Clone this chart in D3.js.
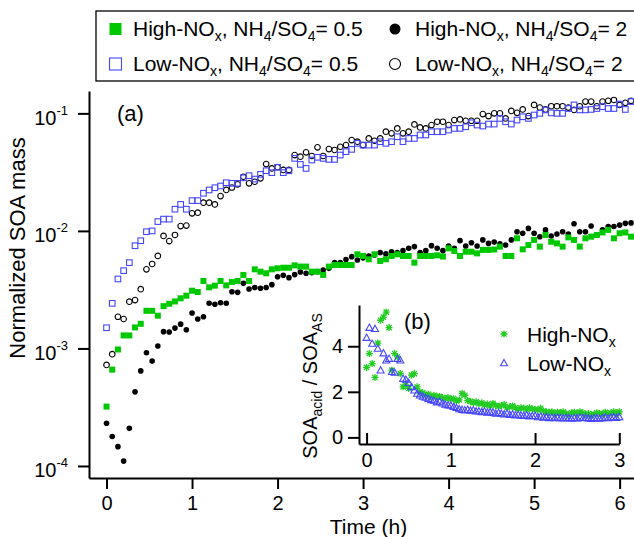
<!DOCTYPE html>
<html lang="en">
  <head>
    <meta charset="UTF-8" />
    <title>Normalized SOA mass vs time</title>
    <script src="https://d3js.org/d3.v7.min.js"></script>
    <style>
      body {
        margin: 0;
        background: #fff;
      }
      svg {
        display: block;
        font-family: 'Liberation Sans', Arial, sans-serif;
      }
    </style>
  </head>
  <body>
    <svg id="chart" width="634" height="537"></svg>
    <script>
      // ---- data ----
      // main panel: sample times in minutes
      const mainMinutes = [
        0, 4, 8, 12, 16, 20, 24, 28, 32, 36, 40, 44, 48, 52, 56, 60, 64, 68, 72, 76,
        80, 84, 88, 92, 96, 100, 104, 108, 112, 116, 120, 124, 128, 132, 136, 140,
        144, 148, 152, 156, 160, 164, 168, 172, 176, 180, 184, 188, 192, 196, 200,
        204, 208, 212, 216, 220, 224, 228, 232, 236, 240, 244, 248, 252, 256, 260,
        264, 268, 272, 276, 280, 284, 288, 292, 296, 300, 304, 308, 312, 316, 320,
        324, 328, 332, 336, 340, 344, 348, 352, 356, 360, 364, 368,
      ];
      // normalized SOA mass, in units of 1e-3
      const highNOx05 = [
        0.32, 0.66, 0.98, 1.29, 1.29, 1.51, 1.62, 2.09, 2.09, 1.9,
        2.29, 2.4, 2.51, 2.67, 2.81, 3.1, 3.02, 3.75, 3.31, 3.42,
        3.75, 3.44, 3.68, 3.75, 4.22, 3.75, 4.71, 4.5, 4.36, 4.71,
        4.81, 4.86, 4.86, 5.09, 4.97, 4.97, 4.5, 4.5, 4.22, 4.97,
        5.13, 5.13, 5.13, 5.13, 6.32, 6.12, 5.73, 6.32, 5.55, 5.73,
        6.12, 6.32, 6.12, 6.12, 5.37, 6.12, 6.12, 6.12, 6.2, 6.05,
        7.11, 6.75, 6.12, 6.65, 6.65, 6.44, 6.89, 6.89, 6.95, 7.35,
        6.12, 6.12, 8.65, 6.97, 7.59, 8.38, 7.35, 9.23, 8.09, 7.83,
        7.35, 8.81, 8.38, 7.35, 8.65, 8.93, 9.23, 9.7, 10.2, 8.65,
        9.55, 9.7, 8.93,
      ];
      const highNOx2 = [
        0.231, 0.178, 0.146, 0.11, 0.209, 0.427, 0.644, 0.92, 0.78, 1.05,
        1.39, 1.38, 1.49, 1.61, 1.44, 2.0, 1.78, 1.86, 2.42, 2.38,
        2.45, 2.42, 3.04, 3.0, 3.58, 3.2, 3.3, 3.25, 3.3, 3.49,
        4.07, 4.2, 4.0, 4.25, 4.47, 4.36, 4.4, 4.5, 4.65, 4.8,
        5.37, 5.37, 5.7, 6.04, 5.66, 5.9, 6.12, 6.24, 6.53, 6.37,
        6.65, 6.53, 6.79, 7.11, 7.35, 6.53, 6.79, 7.49, 7.11, 6.79,
        7.45, 7.1, 8.26, 7.45, 7.94, 7.45, 8.38, 7.83, 8.03, 7.75,
        7.59, 8.38, 9.84, 9.55, 10.5, 9.55, 8.93, 10.2, 9.06, 9.42,
        9.84, 9.42, 11.5, 9.84, 9.84, 11.0, 9.23, 10.2, 10.9, 10.9,
        11.2, 11.6, 11.7,
      ];
      const lowNOx05 = [
        1.5, 2.42, 3.9, 4.59, 5.37, 7.48, 8.25, 9.84, 10.0, 12.0,
        12.6, 12.6, 15.3, 16.8, 15.3, 18.1, 18.1, 20.9, 22.3, 23.3,
        24.1, 25.7, 25.4, 25.4, 28.3, 29.5, 27.6, 30.3, 32.5, 31.3,
        34.8, 31.3, 32.5, 41.4, 36.8, 34.0, 40.1, 42.3, 41.4, 40.6,
        40.6, 44.2, 47.2, 49.4, 55.6, 53.7, 53.7, 53.7, 57.4, 55.6,
        57.4, 63.3, 57.4, 61.2, 61.2, 65.5, 65.5, 69.8, 69.8, 69.8,
        72.1, 74.5, 74.5, 76.9, 83.2, 79.6, 78.0, 81.1, 81.1, 90.6,
        84.9, 81.1, 87.7, 93.6, 90.6, 96.8, 100, 107, 101, 100,
        100, 110, 118, 107, 107, 108, 110, 114, 110, 110,
        120, 108, 126,
      ];
      const lowNOx2 = [
        0.724, 0.893, 1.86, 1.78, 2.5, 2.58, 3.19, 4.71, 5.23, 6.12,
        9.06, 8.2, 9.23, 11.0, 11.1, 14.1, 14.3, 17.4, 17.4, 16.8,
        19.8, 22.3, 23.4, 24.9, 28.9, 25.4, 26.2, 28.0, 37.0, 34.0,
        34.8, 33.0, 33.0, 44.2, 42.8, 46.6, 43.4, 51.4, 43.4, 49.7,
        48.8, 52.0, 53.7, 59.3, 57.4, 53.7, 61.2, 58.5, 61.2, 69.8,
        67.6, 74.5, 67.6, 69.8, 80.5, 76.0, 74.5, 79.6, 84.9, 84.9,
        79.6, 87.7, 88.9, 86.5, 86.5, 86.5, 98.6, 94.8, 100, 100,
        90.6, 105, 101, 108, 94.8, 118, 112, 108, 115, 115,
        115, 112, 107, 115, 126, 126, 115, 126, 128, 130,
        118, 123, 128,
      ];

      // inset: SOA_acid / SOA_AS ratio, sample times in minutes
      const insetMinutes = [
        0, 2, 4, 6, 8, 10, 12, 14, 16, 18, 20, 22, 24, 26, 28, 30, 32, 34, 36, 38,
        40, 42, 44, 46, 48, 50, 52, 54, 56, 58, 60, 62, 64, 66, 68, 70, 72, 74, 76,
        78, 80, 82, 84, 86, 88, 90, 92, 94, 96, 98, 100, 102, 104, 106, 108, 110,
        112, 114, 116, 118, 120, 122, 124, 126, 128, 130, 132, 134, 136, 138, 140,
        142, 144, 146, 148, 150, 152, 154, 156, 158, 160, 162, 164, 166, 168, 170,
        172, 174, 176, 178, 180,
      ];
      const ratioHighNOx = [
        3.07, 3.68, 3.24, 2.63, 4.14, 5.14, 5.28, 5.5, 4.82, 2.95,
        3.68, 3.53, 2.8, 2.22, 2.3, 2.15, 2.73, 2.8, 2.22, 2.0,
        1.95, 1.85, 1.9, 1.8, 1.85, 1.78, 1.8, 1.75, 1.7, 1.75,
        1.68, 1.7, 1.6, 1.65, 1.93, 1.85, 1.62, 1.58, 1.52, 1.56,
        1.48, 1.52, 1.42, 1.46, 1.38, 1.49, 1.4, 1.36, 1.4, 1.44,
        1.3, 1.34, 1.38, 1.3, 1.25, 1.3, 1.28, 1.22, 1.3, 1.25,
        1.23, 1.2, 1.28, 1.15, 1.12, 1.1, 1.12, 1.05, 1.1, 1.08,
        1.12, 1.05, 1.0, 1.08, 1.1, 1.05, 1.12, 1.08, 1.0, 1.05,
        0.98, 1.02, 1.08, 1.05, 1.02, 1.1, 1.05, 1.08, 1.12, 1.05,
        1.12,
      ];
      const ratioLowNOx = [
        4.38, 4.82, 4.12, 4.77, 3.9, 2.95, 3.7, 3.39, 3.46, 2.88,
        2.85, 3.46, 3.39, 2.58, 2.54, 2.4, 2.22, 2.07, 1.93, 1.85,
        1.8, 1.75, 1.7, 1.65, 1.62, 1.55, 1.58, 1.5, 1.45, 1.42,
        1.4, 1.35, 1.3, 1.25, 1.22, 1.2, 1.22, 1.18, 1.2, 1.15,
        1.15, 1.12, 1.15, 1.1, 1.12, 1.1, 1.05, 1.08, 1.05, 1.02,
        1.05, 1.0, 1.02, 0.98, 1.0, 0.97, 0.95, 0.98, 0.93, 0.95,
        0.95, 0.9, 0.92, 0.88, 0.9, 0.86, 0.88, 0.85, 0.88, 0.86,
        0.84, 0.87, 0.85, 0.83, 0.86, 0.84, 0.88, 0.85, 0.87, 0.84,
        0.82, 0.86, 0.84, 0.83, 0.86, 0.88, 0.85, 0.88, 0.9, 0.87,
        0.9,
      ];

      const mainXTicks = [0, 1, 2, 3, 4, 5, 6];
      const mainYTicks = [1e-4, 1e-3, 1e-2, 1e-1];
      const insetXTicks = [0, 1, 2, 3];
      const insetYTicks = [0, 2, 4];

      const FONT = "'Liberation Sans', Arial, sans-serif";
      const GREEN = '#00c800';
      const BLUE = '#4646ff';
      const intFmt = d3.format('d');
      const svg = d3.select('#chart');

      // text with sub/superscripts: parts = [[str, 'sub'|'sup'|undefined]]
      function richText(sel, parts, base, small) {
        let shift = 0;
        parts.forEach(([str, kind]) => {
          const target = kind === 'sub' ? 5 : kind === 'sup' ? -10 : 0;
          sel
            .append('tspan')
            .attr('dy', target - shift)
            .attr('font-size', kind ? small : base)
            .text(str);
          shift = target;
        });
        return sel;
      }

      function marker(g, type, size) {
        if (type === 'sqFill') {
          g.append('rect')
            .attr('x', -size / 2).attr('y', -size / 2)
            .attr('width', size).attr('height', size)
            .attr('fill', GREEN);
        } else if (type === 'dot') {
          g.append('circle').attr('r', size / 2).attr('fill', '#000');
        } else if (type === 'sqOpen') {
          g.append('rect')
            .attr('x', -size / 2).attr('y', -size / 2)
            .attr('width', size).attr('height', size)
            .attr('fill', 'none').attr('stroke', BLUE).attr('stroke-width', 1.1);
        } else if (type === 'ring') {
          g.append('circle').attr('r', size / 2)
            .attr('fill', 'none').attr('stroke', '#000').attr('stroke-width', 1.1);
        } else if (type === 'aster') {
          const h = size / 2, d = h * 0.75;
          g.append('path')
            .attr('d', `M${-h},0H${h}M0,${-h}V${h}M${-d},${-d}L${d},${d}M${-d},${d}L${d},${-d}`)
            .attr('fill', 'none').attr('stroke', '#22cc22').attr('stroke-width', 1.3);
        } else if (type === 'tri') {
          const h = size / 2;
          g.append('path')
            .attr('d', `M0,${-h}L${h},${h * 0.8}L${-h},${h * 0.8}Z`)
            .attr('fill', 'none').attr('stroke', BLUE).attr('stroke-width', 1.1);
        }
      }

      function styleAxis(g) {
        g.attr('font-family', FONT).attr('font-size', 20);
        g.selectAll('path, line').attr('stroke', '#000').attr('stroke-width', 2);
        g.selectAll('text').attr('fill', '#000');
      }

      // ---- main panel ----
      const x = d3.scaleLinear().domain([-0.205, 6.168]).range([89, 634]);
      const y = d3.scaleLog().domain([7.9e-5, 0.155]).range([478, 91]);

      svg.append('g')
        .attr('transform', 'translate(0,478)')
        .call(
          d3.axisBottom(x).tickValues(mainXTicks).tickFormat(intFmt)
            .tickSize(11).tickSizeOuter(0).tickPadding(7),
        )
        .call(styleAxis);

      svg.append('g')
        .attr('transform', 'translate(89,0)')
        .call(d3.axisLeft(y).tickValues(mainYTicks).tickSize(11).tickSizeOuter(0).tickFormat(''))
        .call(styleAxis);

      mainYTicks.forEach((v) => {
        const t = svg.append('text')
          .attr('x', 68)
          .attr('y', y(v) + 11.5)
          .attr('text-anchor', 'end');
        richText(t, [['10'], [String(Math.round(Math.log10(v))), 'sup']], 20, 13);
      });

      const series = [
        { vals: highNOx2, type: 'dot', size: 5.6 },
        { vals: highNOx05, type: 'sqFill', size: 6 },
        { vals: lowNOx2, type: 'ring', size: 5.6 },
        { vals: lowNOx05, type: 'sqOpen', size: 5.6 },
      ];
      series.forEach((s) => {
        svg.append('g')
          .selectAll('g')
          .data(s.vals)
          .join('g')
          .attr('transform', (d, i) => `translate(${x(mainMinutes[i] / 60)},${y(d * 1e-3)})`)
          .each(function () {
            marker(d3.select(this), s.type, s.size);
          });
      });

      svg.append('text')
        .attr('transform', 'translate(25,248) rotate(-90)')
        .attr('text-anchor', 'middle')
        .attr('font-size', 22)
        .text('Normalized SOA mass');

      svg.append('text')
        .attr('x', 368.5).attr('y', 533.5)
        .attr('text-anchor', 'middle')
        .attr('font-size', 21)
        .text('Time (h)');

      svg.append('text')
        .attr('x', 117).attr('y', 121)
        .attr('font-size', 22)
        .text('(a)');

      // ---- legend ----
      svg.append('rect')
        .attr('x', 96).attr('y', 11)
        .attr('width', 600).attr('height', 70)
        .attr('fill', 'none').attr('stroke', '#000').attr('stroke-width', 1.3);

      const legendItems = [
        { type: 'sqFill', size: 12, mx: 115.5, tx: 133, row: 0, name: 'High-NO', ratio: '0.5' },
        { type: 'dot', size: 11, mx: 395, tx: 415, row: 0, name: 'High-NO', ratio: '2' },
        { type: 'sqOpen', size: 12, mx: 115.5, tx: 133, row: 1, name: 'Low-NO', ratio: '0.5' },
        { type: 'ring', size: 11, mx: 395, tx: 415, row: 1, name: 'Low-NO', ratio: '2' },
      ];
      legendItems.forEach((d) => {
        const cy = d.row === 0 ? 29 : 64;
        marker(svg.append('g').attr('transform', `translate(${d.mx},${cy})`), d.type, d.size);
        const t = svg.append('text').attr('x', d.tx).attr('y', cy + 7);
        richText(t, [[d.name], ['x', 'sub'], [', NH'], ['4', 'sub'], ['/SO'], ['4', 'sub'], ['= ' + d.ratio]], 21, 14);
      });

      // ---- inset (b) ----
      const xi = d3.scaleLinear().domain([-0.09, 3]).range([359, 619.3]);
      const yi = d3.scaleLinear().domain([-0.29, 5.81]).range([444, 305]);

      svg.append('g')
        .attr('transform', 'translate(0,444)')
        .call(
          d3.axisBottom(xi).tickValues(insetXTicks).tickFormat(intFmt)
            .tickSize(-11).tickSizeOuter(0).tickPadding(9),
        )
        .call(styleAxis);

      svg.append('g')
        .attr('transform', 'translate(359,0)')
        .call(
          d3.axisLeft(yi).tickValues(insetYTicks).tickFormat(intFmt)
            .tickSize(11).tickSizeOuter(0).tickPadding(5),
        )
        .call(styleAxis);

      [
        { vals: ratioHighNOx, type: 'aster', size: 7 },
        { vals: ratioLowNOx, type: 'tri', size: 7 },
      ].forEach((s) => {
        svg.append('g')
          .selectAll('g')
          .data(s.vals)
          .join('g')
          .attr('transform', (d, i) => `translate(${xi(insetMinutes[i] / 60)},${yi(d)})`)
          .each(function () {
            marker(d3.select(this), s.type, s.size);
          });
      });

      const yTitle = svg.append('text')
        .attr('transform', 'translate(316.5,386) rotate(-90)')
        .attr('text-anchor', 'middle');
      richText(yTitle, [['SOA'], ['acid', 'sub'], [' / SOA'], ['AS', 'sub']], 20, 14);

      svg.append('text')
        .attr('x', 404).attr('y', 329)
        .attr('font-size', 22)
        .text('(b)');

      [
        { type: 'aster', cy: 334, name: 'High-NO' },
        { type: 'tri', cy: 363, name: 'Low-NO' },
      ].forEach((d) => {
        marker(svg.append('g').attr('transform', `translate(504,${d.cy})`), d.type, 7);
        const t = svg.append('text').attr('x', 527).attr('y', d.cy + 8);
        richText(t, [[d.name], ['x', 'sub']], 21, 14);
      });
    </script>
  </body>
</html>
